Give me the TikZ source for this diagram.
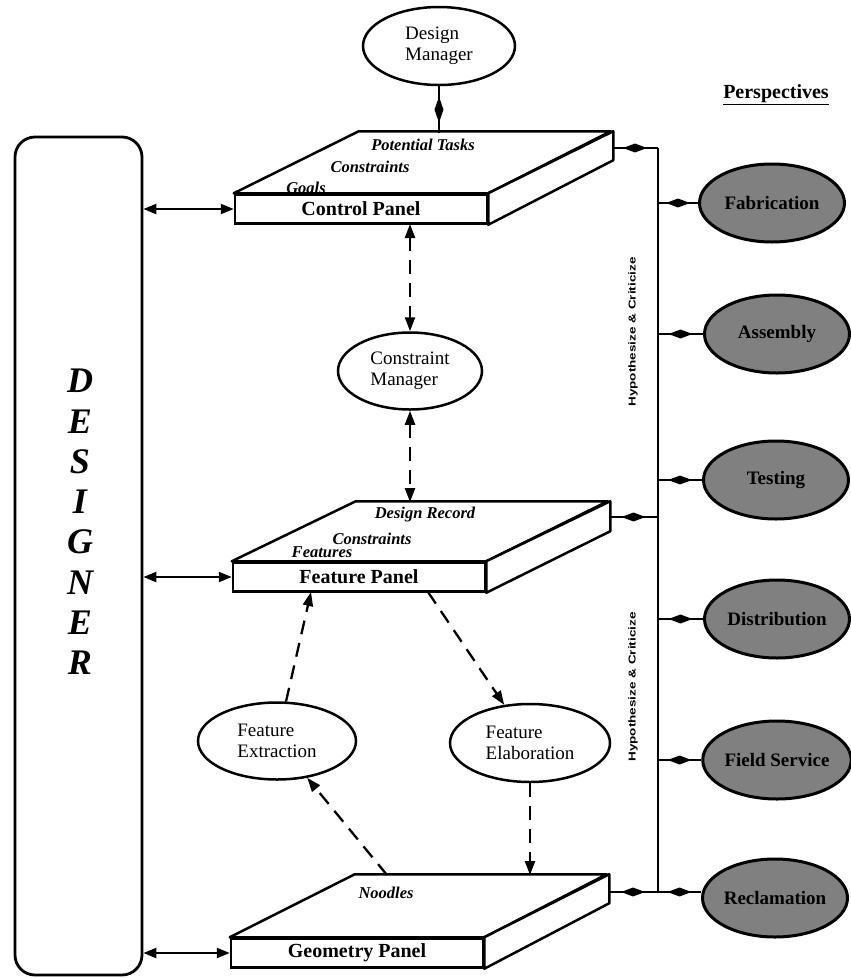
\documentclass[tikz,border=0pt]{standalone}
\usepackage{fontspec}
\setmainfont{Liberation Serif}
\newfontfamily\hyfont{Liberation Sans}
\usetikzlibrary{shapes.geometric,arrows.meta}
\begin{document}
\begin{tikzpicture}[x=1pt,y=-1pt,
  every node/.style={inner sep=0pt},
  ln/.style={line width=2.5pt},
  panel/.style={draw, line width=2.5pt, fill=white, minimum width=252pt, minimum height=29pt,
    font=\fontsize{20}{22}\selectfont\bfseries},
  slabface/.style={draw, line width=2.5pt, line join=round, fill=white},
  tag/.style={font=\fontsize{16.5}{18}\selectfont\bfseries\itshape},
  proc/.style={ellipse, draw, line width=2.5pt, fill=white, align=left,
    font=\fontsize{19}{21.5}\selectfont},
  persp/.style={ellipse, draw, line width=3pt, fill=black!50, minimum width=145pt,
    minimum height=78pt, font=\fontsize{19}{21}\selectfont\bfseries},
  dmd/.style={diamond, fill=black, minimum width=25pt, minimum height=10pt, inner sep=0pt},
  vdmd/.style={diamond, fill=black, minimum width=10pt, minimum height=27pt, inner sep=0pt},
  dsh/.style={line width=2.3pt, dash pattern=on 14pt off 9pt, -{Triangle[length=14pt,width=10pt]}},
  dshb/.style={line width=2.3pt, dash pattern=on 14pt off 9pt,
    {Triangle[length=14pt,width=10pt]}-{Triangle[length=14pt,width=10pt]}},
  dbl/.style={line width=2.2pt, {Triangle[length=13pt,width=10pt]}-{Triangle[length=13pt,width=10pt]}},
  hyp/.style={rotate=90, font=\hyfont\bfseries\fontsize{10}{12}\selectfont},
]
\useasboundingbox (0,0) rectangle (851,978);

% DESIGNER column
\node[draw, line width=2.8pt, rounded corners=20pt, minimum width=127pt, minimum height=838pt] (des) at (78.5,556) {};
\node[align=center, font=\fontsize{36}{40.3}\selectfont\bfseries\itshape] (dtext) at (80,522) {D\\E\\S\\I\\G\\N\\E\\R};

% Panels
\node[panel] (cp) at (361,209) {Control Panel};
\draw[slabface] (cp.north west) -- ++(125,-62) -- ++(252,0) -- (cp.north east) -- cycle;
\draw[slabface] (cp.north east) -- ++(125,-62) -- ++(0,29) -- (cp.south east) -- cycle;
\node[tag] (cpt1) at (423,145) {Potential Tasks};
\node[tag] (cpt2) at (370,167) {Constraints};
\node[tag] (cpt3) at (306,188) {Goals};

\node[panel] (fp) at (359,577) {Feature Panel};
\draw[slabface] (fp.north west) -- ++(124,-60) -- ++(252,0) -- (fp.north east) -- cycle;
\draw[slabface] (fp.north east) -- ++(124,-60) -- ++(0,30) -- (fp.south east) -- cycle;
\node[tag] (fpt1) at (425,515) {Design Record};
\node[tag] (fpt2) at (372,539) {Constraints};
\node[tag] (fpt3) at (322,552) {Features};

\node[panel] (gp) at (357,953) {Geometry Panel};
\draw[slabface] (gp.north west) -- ++(125,-63) -- ++(252,0) -- (gp.north east) -- cycle;
\draw[slabface] (gp.north east) -- ++(125,-63) -- ++(0,29) -- (gp.south east) -- cycle;
\node[tag] (gpt1) at (386,893) {Noodles};

% Process ellipses
\node[proc, minimum width=152pt, minimum height=78pt] (dm) at (439,46) {Design\\Manager};
\node[proc, minimum width=144pt, minimum height=77pt] (cm) at (410,371) {Constraint\\Manager};
\node[proc, minimum width=158pt, minimum height=77pt] (fex) at (277,741) {Feature\\Extraction};
\node[proc, minimum width=160pt, minimum height=78pt] (fel) at (530,743) {Feature\\Elaboration};

% Design manager link
\coordinate (cpT) at (439,133);
\draw[ln] (dm) -- node[vdmd]{} (cpT);

% Designer links
\draw[dbl] (des.east |- cp.west) -- (cp.west);
\draw[dbl] (des.east |- fp.west) -- (fp.west);
\draw[dbl] (des.east |- gp.west) -- (gp.west);

% Dashed links
\coordinate (cpB) at (410,224);
\coordinate (fpT) at (410,502);
\draw[dshb] (cpB) -- (cm);
\draw[dshb] (cm) -- (fpT);
\coordinate (fpB1) at (311,592);
\coordinate (fpB2) at (428,592);
\coordinate (gpT1) at (387,875);
\coordinate (gpT2) at (530,875);
\draw[dsh] (fex) -- (fpB1);
\draw[dsh] (fpB2) -- (fel);
\draw[dsh] (gpT1) -- (fex);
\draw[dsh] (fel) -- (gpT2);

% Perspectives
\node[font=\fontsize{20}{22}\selectfont\bfseries] (ptitle) at (776,95) {\underline{Perspectives}};
\node[persp] (fab) at (772,203) {Fabrication};
\node[persp] (asm) at (777,334) {Assembly};
\node[persp] (tst) at (776,480) {Testing};
\node[persp] (dst) at (777,619) {Distribution};
\node[persp] (fld) at (777,760) {Field Service};
\node[persp] (rec) at (775,898) {Reclamation};

% Bus
\coordinate (busT) at (658,148);
\coordinate (busF) at (658,517);
\coordinate (busB) at (658,892);
\draw[ln] (busT) -- (busB);
\coordinate (cpR) at (612,148);
\coordinate (fpR) at (609,517);
\coordinate (gpR) at (608,892);
\draw[ln] (cpR) -- node[dmd]{} (busT);
\draw[ln] (fpR) -- node[dmd]{} (busF);
\draw[ln] (gpR) -- node[dmd]{} (busB);
\foreach \p in {fab,asm,tst,dst,fld}{
  \draw[ln] (busT |- \p.west) -- node[dmd]{} (\p.west);
}
\draw[ln] (busB) -- node[dmd]{} (busB -| rec.west);

\node[hyp] (h1) at (633,332) {\scalebox{1.35}[1]{Hypothesize \& Criticize}};
\node[hyp] (h2) at (633,687) {\scalebox{1.35}[1]{Hypothesize \& Criticize}};
\end{tikzpicture}
\end{document}
